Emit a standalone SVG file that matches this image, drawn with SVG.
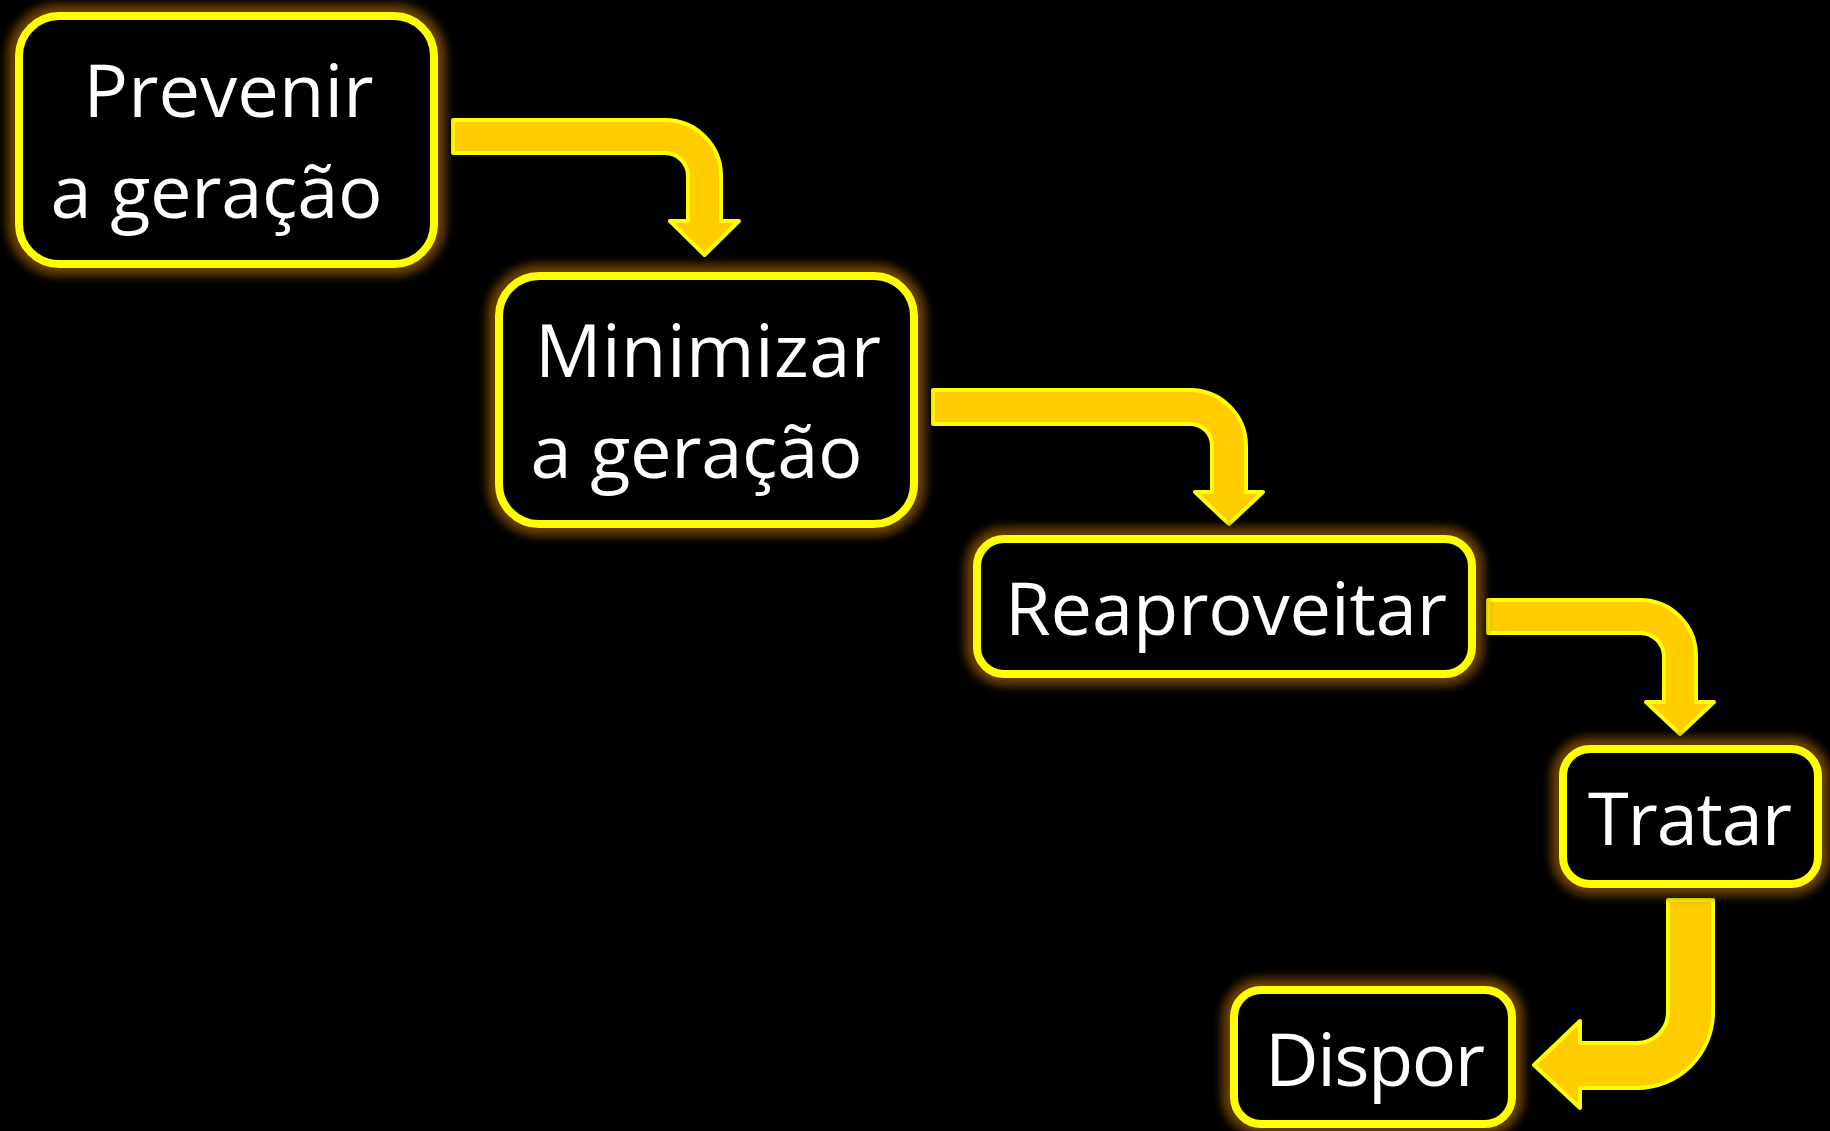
<svg xmlns="http://www.w3.org/2000/svg" width="1830" height="1131" viewBox="0 0 1830 1131">
  <defs>
    <filter id="blur" x="-20%" y="-30%" width="140%" height="160%">
      <feGaussianBlur stdDeviation="5"/>
    </filter>
    <style>
      .glow { fill: none; stroke: #6a4000; stroke-width: 24; filter: url(#blur); }
      .box { fill: #000000; stroke: #ffff00; stroke-width: 8; }
      .lbl { fill: #ffffff; font-family: "Open Sans", "Noto Sans", sans-serif; font-size: 74px; text-anchor: middle; }
      .arrow { fill: #ffcc00; stroke: #ffff00; stroke-width: 4; stroke-linejoin: round; }
    </style>
  </defs>
  <rect x="0" y="0" width="1830" height="1131" fill="#000000"/>

  <g id="connectors">
    <path class="arrow" d="M453,120 H665 A56,56 0 0 1 721,176 V221 H739 L704.5,255 L670,221 H688 V176 A23,23 0 0 0 665,153 H453 Z"/>
    <path class="arrow" d="M933,390 H1190 A56,56 0 0 1 1246,446 V492 H1263 L1229,524 L1195,492 H1212 V446 A22,22 0 0 0 1190,424 H933 Z"/>
    <path class="arrow" d="M1488,600 H1640 A56,56 0 0 1 1696,656 V702 H1714 L1680,734 L1646,702 H1664 V656 A24,24 0 0 0 1640,633 H1488 Z"/>
    <path class="arrow" d="M1669,900 H1713 V1012 A76,76 0 0 1 1637,1088 H1580 V1108 L1534,1065 L1580,1021 V1043 H1637 A31,31 0 0 0 1668,1012 V900 Z"/>
  </g>

  <g id="node-prevenir">
    <rect class="glow" x="19" y="16" width="415" height="248" rx="40"/>
    <rect class="box" x="19" y="16" width="415" height="248" rx="40"/>
    <text class="lbl" x="228.5" y="117" textLength="290">Prevenir</text>
    <text class="lbl" x="216.5" y="218" textLength="332">a geração</text>
  </g>

  <g id="node-minimizar">
    <rect class="glow" x="499" y="276" width="415" height="248" rx="40"/>
    <rect class="box" x="499" y="276" width="415" height="248" rx="40"/>
    <text class="lbl" x="708" y="377" textLength="346">Minimizar</text>
    <text class="lbl" x="696.5" y="478" textLength="332">a geração</text>
  </g>

  <g id="node-reaproveitar">
    <rect class="glow" x="977" y="539" width="495" height="135" rx="27"/>
    <rect class="box" x="977" y="539" width="495" height="135" rx="27"/>
    <text class="lbl" x="1226" y="635" textLength="442">Reaproveitar</text>
  </g>

  <g id="node-tratar">
    <rect class="glow" x="1563" y="749" width="255" height="135" rx="27"/>
    <rect class="box" x="1563" y="749" width="255" height="135" rx="27"/>
    <text class="lbl" x="1690" y="845" textLength="204">Tratar</text>
  </g>

  <g id="node-dispor">
    <rect class="glow" x="1234" y="990" width="278" height="134" rx="27"/>
    <rect class="box" x="1234" y="990" width="278" height="134" rx="27"/>
    <text class="lbl" x="1375" y="1086" textLength="220">Dispor</text>
  </g>
</svg>
